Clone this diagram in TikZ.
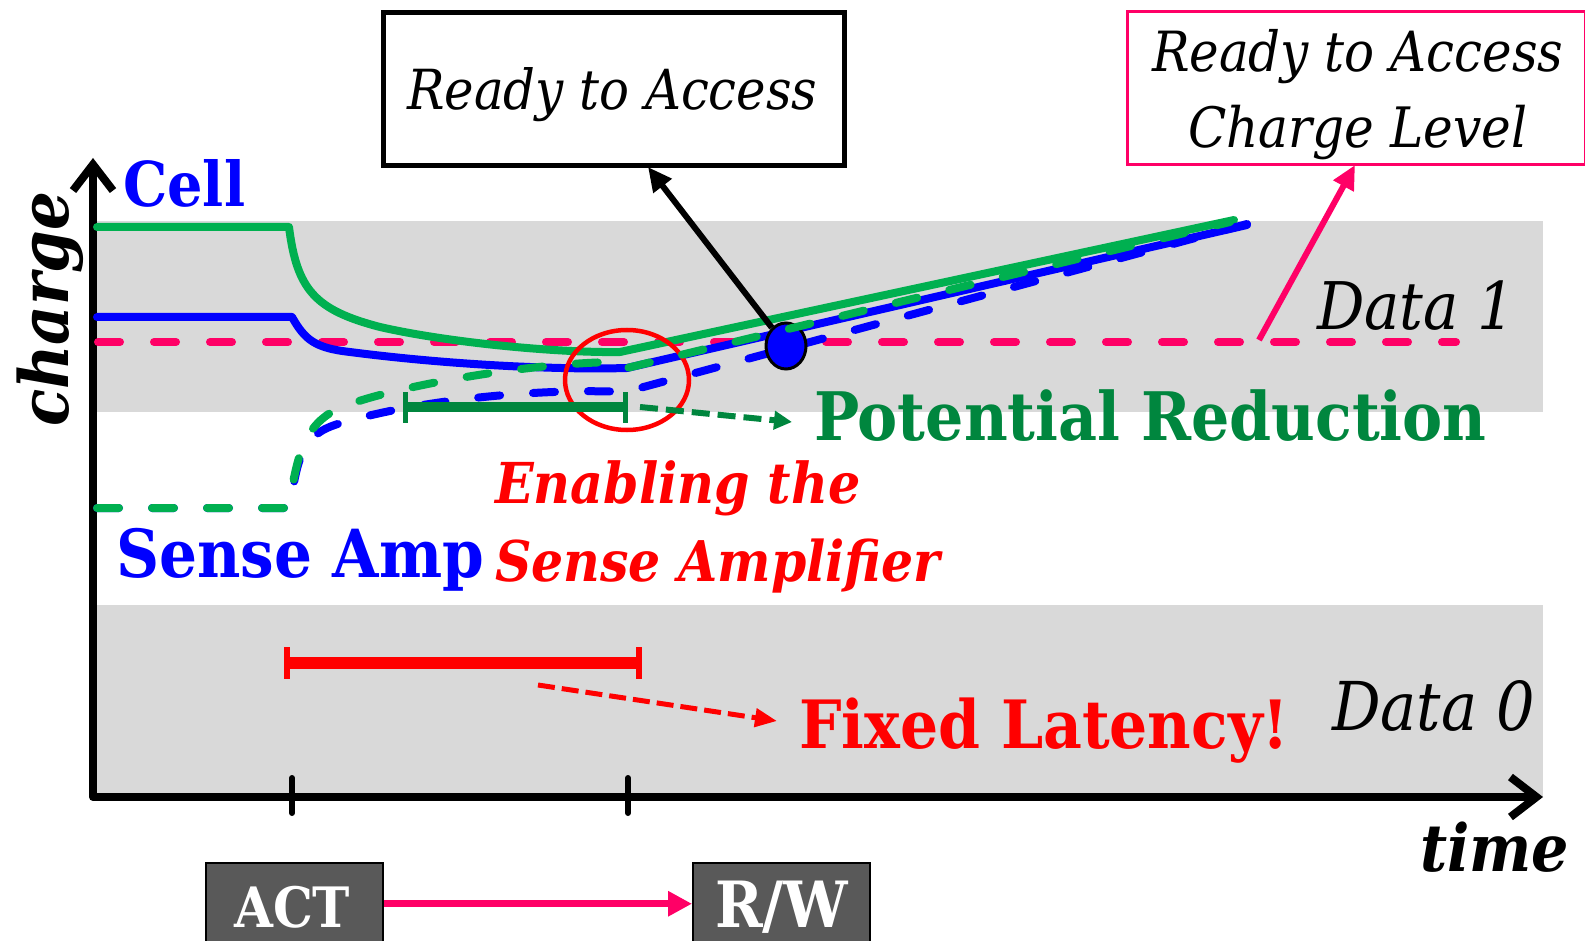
\documentclass[tikz,border=0pt]{standalone}
\usepackage{fontspec}
\setmainfont{DejaVu Serif Condensed}
\usetikzlibrary{arrows.meta,shapes.geometric}
\definecolor{cellgreen}{HTML}{00B050}
\definecolor{sablue}{HTML}{0000FF}
\definecolor{pinkc}{HTML}{FF0066}
\definecolor{dgreen}{HTML}{00863E}
\definecolor{bandgray}{HTML}{D9D9D9}
\definecolor{actgray}{HTML}{595959}
\newcommand\fitto[2]{\resizebox{#1pt}{!}{#2}}
\begin{document}
\begin{tikzpicture}[x=1pt,y=-1pt,
  lbl/.style={inner sep=0pt, anchor=base west},
  curve/.style={line width=8pt, line cap=round, line join=round},
  dashcurve/.style={curve, dash pattern=on 22pt off 33pt},
  axisline/.style={line width=8pt, line cap=round, line join=round},
  tickmark/.style={line width=6pt, line cap=round},
  cmdbox/.style={fill=actgray, draw=black, line width=1.5pt, minimum width=177pt,
    minimum height=82pt, anchor=north west, inner sep=0pt}]
\useasboundingbox (0,0) rectangle (1585,941);

% charge bands
\fill[bandgray] (97,221) rectangle (1543,412);
\fill[bandgray] (97,605) rectangle (1543,797);

% axes
\coordinate (org) at (93,797);
\coordinate (ytip) at (93,158);
\coordinate (xtip) at (1543,797);
\draw[axisline, {Straight Barb[length=26pt,width=40pt]}-{Straight Barb[length=26pt,width=40pt]}]
  (ytip) -- (org) -- (xtip);
\draw[tickmark] (292,778) -- (292,813);
\draw[tickmark] (628,778) -- (628,813);

% ready-to-access charge level
\draw[pinkc, line width=8pt, line cap=round, dash pattern=on 22pt off 34pt] (98,342) -- (1456,342);

% cell charge
\draw[curve, sablue] (97,317) -- (292,317) .. controls (305,340) and (315,348) .. (350,352)
  .. controls (450,365) and (560,370) .. (627,368) -- (1247,225);
\draw[curve, cellgreen] (97,227) -- (289,227) .. controls (297,290) and (315,310) .. (380,327)
  .. controls (450,343) and (560,353) .. (620,352) -- (1234,220);

% sense amplifier charge
\draw[dashcurve, sablue] (97,508) -- (290,508) .. controls (298,450) and (305,432) .. (345,422)
  .. controls (420,400) and (540,388) .. (625,392) -- (1247,224);

% enabling the sense amplifier
\draw[red, line width=4.5pt] (627,380) ellipse [x radius=62, y radius=50];

% ready to access
\node[draw=black, line width=5pt, minimum width=461pt, minimum height=153pt,
  anchor=north west, inner sep=0pt] (rta) at (381,10) {};
\node[lbl] (rtaLbl) at (407,110) {\fitto{410}{\itshape Ready to Access}};
\coordinate (rtaTip) at (648,167);
\node[ellipse, draw=black, fill=sablue, line width=3pt, minimum width=40pt,
  minimum height=46pt, inner sep=0pt] (dot) at (786,346) {};
\draw[line width=6pt, -{Triangle[length=24pt,width=22pt]}] (dot) -- (rtaTip);

\draw[dashcurve, cellgreen] (97,508) -- (288,508) .. controls (298,460) and (300,420) .. (350,404)
  .. controls (410,383) and (540,362) .. (620,362) -- (627,368) -- (1230,222);

% ready to access charge level
\node[draw=pinkc, line width=3pt, minimum width=458pt, minimum height=153pt,
  anchor=north west, inner sep=0pt] (ctl) at (1126,10) {};
\node[lbl] (ctlLbl1) at (1152,72) {\fitto{411}{\itshape Ready to Access}};
\node[lbl] (ctlLbl2) at (1188,148) {\fitto{339}{\itshape Charge Level}};
\coordinate (ctlFrom) at (1259,340);
\coordinate (ctlTip) at (1355,165);
\draw[pinkc, line width=6pt, -{Triangle[length=24pt,width=22pt]}] (ctlFrom) -- (ctlTip);

% potential reduction
\coordinate (prA) at (405,407);
\coordinate (prB) at (625,407);
\draw[dgreen, line width=10pt] (prA) -- (prB);
\draw[dgreen, line width=5pt] (405,392) -- (405,423);
\draw[dgreen, line width=5pt] (625,392) -- (625,423);
\coordinate (prFrom) at (640,407);
\coordinate (prTo) at (792,422);
\node[lbl, text=dgreen] (prLbl) at (814,440) {\fitto{672}{\bfseries Potential Reduction}};
\draw[dgreen, line width=6pt, dash pattern=on 18pt off 8pt, -{Triangle[length=18pt,width=18pt]}]
  (prFrom) -- (prTo);

% fixed latency
\draw[red, line width=12pt] (287,663) -- (639,663);
\draw[red, line width=6pt] (287,647) -- (287,679);
\draw[red, line width=6pt] (639,647) -- (639,679);
\coordinate (flFrom) at (538,685);
\coordinate (flTo) at (777,721);
\draw[red, line width=5pt, dash pattern=on 17pt off 7pt, -{Triangle[length=22pt,width=18pt]}]
  (flFrom) -- (flTo);
\node[lbl, text=red] (flLbl) at (799,748) {\fitto{490}{\bfseries Fixed Latency!}};

% labels
\node[lbl, text=sablue] (cellLbl) at (123,207) {\fitto{122}{\bfseries Cell}};
\node[lbl, text=sablue] (saLbl) at (116,577) {\fitto{368}{\bfseries Sense Amp}};
\node[lbl, text=red] (enLbl1) at (495,503) {\fitto{365}{\bfseries\itshape Enabling the}};
\node[lbl, text=red] (enLbl2) at (495,581) {\fitto{445}{\bfseries\itshape Sense Amplifier}};
\node[lbl] (d1Lbl) at (1317,330) {\fitto{198}{\itshape Data 1}};
\node[lbl] (d0Lbl) at (1332,730) {\fitto{203}{\itshape Data 0}};
\node[lbl] (timeLbl) at (1420,871) {\fitto{149}{\bfseries\itshape time}};
\node[lbl, rotate=90] (chargeLbl) at (68,427) {\fitto{235}{\bfseries\itshape charge}};

% command sequence
\node[cmdbox] (act) at (205,862) {};
\node[cmdbox] (rw) at (692,862) {};
\node[lbl, text=white] (actLbl) at (234,927) {\fitto{116}{\bfseries ACT}};
\node[lbl, text=white] (rwLbl) at (715,927) {\fitto{133}{\bfseries R/W}};
\draw[pinkc, line width=7pt, -{Triangle[length=24pt,width=24pt]}] (act.east) -- (rw.west);
\end{tikzpicture}
\end{document}
